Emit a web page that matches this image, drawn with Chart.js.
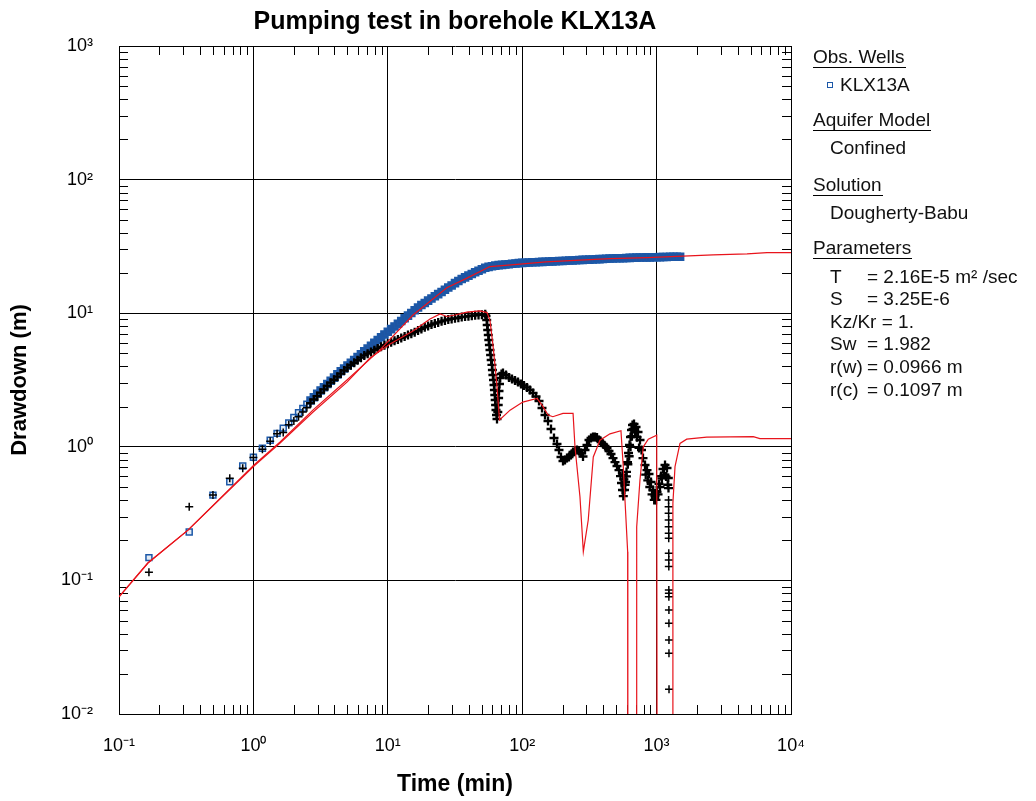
<!DOCTYPE html>
<html><head><meta charset="utf-8">
<script src="https://cdn.jsdelivr.net/npm/chart.js@4.4.1/dist/chart.umd.min.js"></script>
<style>
html,body{margin:0;padding:0;background:#fff;}
#wrap{position:relative;width:1036px;height:801px;overflow:hidden;font-family:"Liberation Sans",Arial,sans-serif;color:#000;}
canvas{position:absolute;left:0;top:0;}
.t{position:absolute;white-space:nowrap;font-size:19px;line-height:20px;color:#111;}
.h{border-bottom:1px solid #000;padding-right:1px;}
#title{position:absolute;left:455px;top:6px;transform:translateX(-50%);font-weight:bold;font-size:25px;line-height:28px;white-space:nowrap;}
#mk{position:absolute;left:827px;top:82px;width:4px;height:4px;border:1.3px solid #1c58a8;}
</style></head>
<body><div id="wrap"><canvas id="c" width="1036" height="801"></canvas>
<div id="title">Pumping test in borehole KLX13A</div>
<div class="t h" style="left:813px;top:47px">Obs. Wells</div>
<div id="mk"></div>
<div class="t" style="left:840px;top:75px">KLX13A</div>
<div class="t h" style="left:813px;top:110px">Aquifer Model</div>
<div class="t" style="left:830px;top:138px">Confined</div>
<div class="t h" style="left:813px;top:175px">Solution</div>
<div class="t" style="left:830px;top:203px">Dougherty-Babu</div>
<div class="t h" style="left:813px;top:238px">Parameters</div>
<div class="t" style="left:830px;top:267px">T</div><div class="t" style="left:867px;top:267px">= 2.16E-5 m² /sec</div>
<div class="t" style="left:830px;top:289px">S</div><div class="t" style="left:867px;top:289px">= 3.25E-6</div>
<div class="t" style="left:830px;top:312px">Kz/Kr = 1.</div>
<div class="t" style="left:830px;top:334px">Sw</div><div class="t" style="left:867px;top:334px">= 1.982</div>
<div class="t" style="left:830px;top:357px">r(w)</div><div class="t" style="left:867px;top:357px">= 0.0966 m</div>
<div class="t" style="left:830px;top:380px">r(c)</div><div class="t" style="left:867px;top:380px">= 0.1097 m</div>
</div>
<script>
// ---- tick values / labels ----
const xTickValues = [0.1, 1, 10, 100, 1000, 10000];
const xTickLabels = ['10⁻¹', '10⁰', '10¹', '10²', '10³', '10⁴'];
const yTickValues = [0.01, 0.1, 1, 10, 100, 1000];
const yTickLabels = ['10⁻²', '10⁻¹', '10⁰', '10¹', '10²', '10³'];

// ---- observed drawdown, KLX13A (min, m) ----
const obsTime = [0.167,0.333,0.5,0.667,0.833,1.0,1.167,1.333,1.5,1.667,1.833,2.0,2.167,2.333,2.5,
 2.661,2.818,2.985,3.162,3.350,3.548,3.758,3.981,4.217,4.467,4.732,5.012,5.309,5.623,5.957,6.310,6.683,7.079,7.499,7.943,8.414,8.913,9.441,10.0,
 10.59,11.22,11.89,12.59,13.34,14.13,14.96,15.85,16.79,17.78,18.84,19.95,21.13,22.39,23.71,25.12,26.61,28.18,29.85,31.62,33.50,35.48,37.58,39.81,42.17,44.67,47.32,50.12,53.09,56.23,
 59.57,63.10,66.83,70.79,74.99,79.43,84.14,89.13,94.41,100.0,105.9,112.2,118.9,125.9,133.4,141.3,149.6,158.5,167.9,177.8,188.4,199.5,211.3,223.9,237.1,251.2,266.1,281.8,298.5,316.2,
 335.0,354.8,375.8,398.1,421.7,446.7,473.2,501.2,530.9,562.3,595.7,631.0,668.3,707.9,749.9,794.3,841.4,891.3,944.1,1000,1059,1122,1189,1259,1334,1413,1496];
const obsDrawdown = [0.148,0.230,0.435,0.548,0.718,0.834,0.975,1.12,1.26,1.38,1.51,1.66,1.80,1.94,2.08,
 2.218,2.350,2.495,2.642,2.793,2.951,3.119,3.296,3.483,3.673,3.855,4.055,4.256,4.467,4.699,4.932,5.176,5.433,5.715,5.998,6.310,6.607,6.934,7.261,
 7.603,7.962,8.337,8.730,9.162,9.594,10.05,10.52,11.02,11.51,11.94,12.42,12.88,13.40,13.90,14.42,14.96,15.56,16.14,16.79,17.42,18.03,18.54,19.10,19.63,20.23,20.80,21.33,21.88,22.23,
 22.49,22.70,22.91,23.01,23.17,23.28,23.44,23.55,23.71,23.82,23.88,23.93,24.04,24.10,24.15,24.21,24.27,24.38,24.43,24.49,24.55,24.60,24.72,24.77,24.83,24.89,25.00,25.06,25.12,25.18,
 25.23,25.35,25.41,25.47,25.53,25.64,25.70,25.76,25.82,25.82,25.88,25.94,26.00,26.06,26.12,26.12,26.18,26.18,26.24,26.24,26.30,26.36,26.36,26.42,26.42,26.49,26.49];

// ---- observed derivative (min, m) ----
const derivTime = [0.167,0.333,0.5,0.667,0.833,1.0,1.167,1.333,1.5,1.667,1.833,2.0,2.167,2.333,2.5,
 2.661,2.818,2.985,3.162,3.350,3.548,3.758,3.981,4.217,4.467,4.732,5.012,5.309,5.623,5.957,6.310,6.683,7.079,7.499,7.943,8.414,8.913,9.441,10.0,
 10.59,11.22,11.89,12.59,13.34,14.13,14.96,15.85,16.79,17.78,18.84,19.95,21.13,22.39,23.71,25.12,26.61,28.18,29.85,31.62,33.50,35.48,37.58,39.81,42.17,44.67,47.32,50.12,53.09,
 53.79,54.44,54.91,55.38,55.95,56.43,57.02,57.60,58.20,58.80,59.52,60.03,60.54,61.17,61.70,62.12,62.54,62.97,63.40,63.84,64.39,64.94,
 65.84,66.29,66.75,67.21,67.78,68.60,70.15,
 71.95,75.77,79.75,83.96,88.39,93.07,97.97,103.1,108.6,114.3,120.3,126.7,133.4,140.4,147.8,155.6,163.8,172.4,181.5,187.8,194.4,201.2,208.2,215.4,222.9,230.7,238.8,247.2,255.7,264.6,273.8,283.4,
 293.3,303.5,314.1,325.1,336.4,348.1,360.2,372.8,385.8,399.3,413.2,427.6,442.4,457.8,473.8,490.3,507.4,525.1,538.8,548.1,557.6,565.2,577.1,587.1,597.2,607.6,618.1,628.8,639.6,650.6,661.9,
 679.1,702.8,727.3,752.6,772.1,792.2,819.9,848.4,878.0,908.5,940.2,973.0,1007,1042,1078,1116,1155,1195,1222,1226,
 1228,1229,1229,1230,1230,1231,1231,1232,1232,1233,1233,1234,1234,1235,1235,1236,1236,1237,
 560.0,571.0,583.0,596.0,611.0,625.0,640.0,655.0,668.0,690.0,715.0,740.0,
 830.0,860.0,890.0,925.0,960.0,990.0,1025,1060,1095,1135,1175,1210];
const derivValue = [0.115,0.356,0.435,0.581,0.690,0.83,0.957,1.10,1.25,1.28,1.46,1.56,1.68,1.82,1.96,
 2.123,2.259,2.393,2.541,2.692,2.851,3.020,3.177,3.350,3.532,3.724,3.908,4.083,4.256,4.446,4.645,4.831,4.977,5.129,5.284,5.445,5.610,5.754,5.902,
 6.053,6.209,6.368,6.531,6.683,6.855,7.031,7.211,7.413,7.621,7.834,8.035,8.222,8.375,8.531,8.690,8.831,8.974,9.057,9.162,9.247,9.354,9.441,9.506,9.572,9.638,9.705,9.750,9.817,
 9.53,8.895,8.160,7.486,6.868,6.300,5.781,5.304,4.865,4.465,4.097,3.757,3.447,3.162,2.901,2.661,2.442,2.240,2.055,1.885,1.730,1.615,
 1.822,2.055,2.319,2.617,2.952,3.273,3.507,
 3.568,3.447,3.302,3.218,3.136,3.055,2.952,2.877,2.779,2.661,2.527,2.379,2.202,1.951,1.730,1.560,1.359,1.164,1.049,0.946,0.839,0.783,0.797,0.824,0.839,0.868,0.914,0.938,0.946,0.930,0.899,0.846,
 0.946,1.032,1.124,1.164,1.184,1.184,1.174,1.124,1.086,1.049,1.014,0.980,0.930,0.883,0.824,0.769,0.718,0.670,0.604,0.536,0.475,0.428,0.475,0.545,0.648,0.769,0.899,1.032,1.184,1.336,1.456,
 1.481,1.407,1.291,1.124,0.946,0.824,0.731,0.670,0.626,0.545,0.475,0.428,0.459,0.527,0.604,0.682,0.731,0.694,0.584,0.491,
 0.400,0.356,0.318,0.283,0.252,0.225,0.207,0.160,0.142,0.127,0.0848,0.0801,0.0755,0.0600,0.0477,0.0358,0.0285,0.0153,
 0.62,0.57,0.52,0.60,0.74,0.85,1.00,1.20,1.36,1.30,1.18,0.98,
 0.62,0.56,0.50,0.44,0.40,0.40,0.44,0.50,0.58,0.62,0.60,0.52];

// ---- model (Dougherty-Babu) drawdown curve ----
const modelTime = [0.1,0.164,0.326,1.01,1.58,2.77,4.97,8.75,15.4,27.5,38.8,54.7,57.5,96.4,150,269,450,849,2630,4710,6630,10000];
const modelDrawdown = [0.0752,0.135,0.238,0.731,1.086,1.88,3.16,5.31,9.70,15.5,18.3,21.8,22.3,23.3,24.2,25.0,25.6,26.1,27.3,27.8,28.4,28.4];

// ---- model derivative curve (values ~0.0001 fall below the axis) ----
const modelDerivTime = [0.1,0.164,0.326,1.01,1.58,2.78,4.97,7.37,10.4,15.4,20.6,24.5,27.5,31.6,38.8,48.5,54.7,57.5,60.6,64.6,67.8,81.2,101,129,140,156,169,201,239,247,269,285,310,338,379,450,543,565,609,611,703,711,752,796,867,1002,1012,1318,1322,1371,1493,1675,2360,5240,5870,10000];
const modelDeriv = [0.0752,0.135,0.238,0.718,1.067,1.82,3.05,4.62,5.88,7.36,9.05,9.87,9.45,9.70,10.2,10.4,10.1,8.89,5.78,3.01,1.59,1.88,2.16,2.30,2.06,1.73,1.68,1.78,1.78,1.00,0.423,0.164,0.283,0.839,1.12,1.25,1.32,0.710,0.164,0.0001,0.0001,0.251,0.564,1.00,1.14,1.22,0.0001,0.0001,0.379,0.710,1.06,1.14,1.18,1.19,1.15,1.15];

const FONT = "'Liberation Sans', Arial, sans-serif";
const SPARSE = 15; // first readings are isolated markers, the rest form dense bands
const toXY = (xs, ys) => xs.map((x, i) => ({x, y: ys[i]})).filter(p => p.y !== undefined);
// isolated derivative markers: the early ones and the trailing column near 1230 min
const isolated = c => c.dataIndex < SPARSE || (c.raw && c.raw.x >= 1228 && c.raw.x <= 1237 && c.raw.y < 0.41);

const minorTicks = {
  id: 'minorTicks',
  beforeDatasetsDraw(chart) {
    const {ctx, chartArea: {left, right, top, bottom}, scales: {x, y}} = chart;
    const L = 9;
    ctx.save();
    ctx.strokeStyle = '#000';
    ctx.lineWidth = 1;
    ctx.beginPath();
    for (const d of xTickValues.slice(0, -1)) {
      for (let m = 2; m <= 9; m++) {
        const px = Math.round(x.getPixelForValue(d * m)) + 0.5;
        ctx.moveTo(px, bottom); ctx.lineTo(px, bottom - L);
        ctx.moveTo(px, top); ctx.lineTo(px, top + L);
      }
    }
    for (const d of yTickValues.slice(0, -1)) {
      for (let m = 2; m <= 9; m++) {
        const py = Math.round(y.getPixelForValue(d * m)) + 0.5;
        ctx.moveTo(left, py); ctx.lineTo(left + L, py);
        ctx.moveTo(right, py); ctx.lineTo(right - L, py);
      }
    }
    ctx.stroke();
    ctx.restore();
  }
};

new Chart(document.getElementById('c'), {
  type: 'scatter',
  data: {
    datasets: [
      {label: 'Model drawdown', data: toXY(modelTime, modelDrawdown), showLine: true, borderColor: '#e8141c', borderWidth: 1.2, pointRadius: 0, order: 0},
      {label: 'Model derivative', data: toXY(modelDerivTime, modelDeriv), showLine: true, borderColor: '#e8141c', borderWidth: 1.2, pointRadius: 0, order: 1},
      {label: 'KLX13A derivative', data: toXY(derivTime, derivValue), showLine: false, pointStyle: 'cross',
        pointRadius: c => isolated(c) ? 4.0 : 4.5,
        pointBorderWidth: c => isolated(c) ? 1.5 : 2.3,
        borderColor: '#000', order: 2},
      {label: 'KLX13A', data: toXY(obsTime, obsDrawdown), showLine: false, pointStyle: 'rect',
        pointRadius: c => c.dataIndex < SPARSE ? 4.2 : 5.0,
        pointBackgroundColor: c => c.dataIndex < SPARSE ? 'rgba(28,88,168,0.12)' : '#1f55a2',
        pointBorderWidth: 1.5, borderColor: '#1c58a8', order: 3}
    ]
  },
  options: {
    responsive: false,
    animation: false,
    devicePixelRatio: 1,
    layout: {padding: {top: 46, right: 245, bottom: 0, left: 0}},
    plugins: {legend: {display: false}, title: {display: false}, tooltip: {enabled: false}},
    scales: {
      x: {
        type: 'logarithmic', min: 0.1, max: 10000, position: 'bottom',
        afterFit(s) { s.height = 87; },
        afterBuildTicks(s) { s.ticks = xTickValues.map(v => ({value: v})); },
        grid: {color: '#000', lineWidth: 1, drawTicks: false},
        border: {display: true, color: '#000', width: 1},
        ticks: {autoSkip: false, maxRotation: 0, padding: 21, color: '#000', font: {family: FONT, size: 18},
          callback: (v) => xTickLabels[xTickValues.indexOf(v)] ?? ''},
        title: {display: true, text: 'Time (min)', color: '#000', font: {family: FONT, size: 23, weight: 'bold'}, padding: {top: 0, bottom: 3}}
      },
      y: {
        type: 'logarithmic', min: 0.01, max: 1000, position: 'left',
        afterFit(s) { s.width = 119; },
        afterBuildTicks(s) { s.ticks = yTickValues.map(v => ({value: v})); },
        grid: {color: '#000', lineWidth: 1, drawTicks: false},
        border: {display: true, color: '#000', width: 1},
        ticks: {autoSkip: false, padding: 26, color: '#000', font: {family: FONT, size: 18},
          callback: (v) => yTickLabels[yTickValues.indexOf(v)] ?? ''},
        title: {display: true, text: 'Drawdown (m)', color: '#000', font: {family: FONT, size: 22, weight: 'bold'}, padding: {top: 7, bottom: 0}}
      }
    }
  },
  plugins: [minorTicks]
});
</script>
</body></html>
